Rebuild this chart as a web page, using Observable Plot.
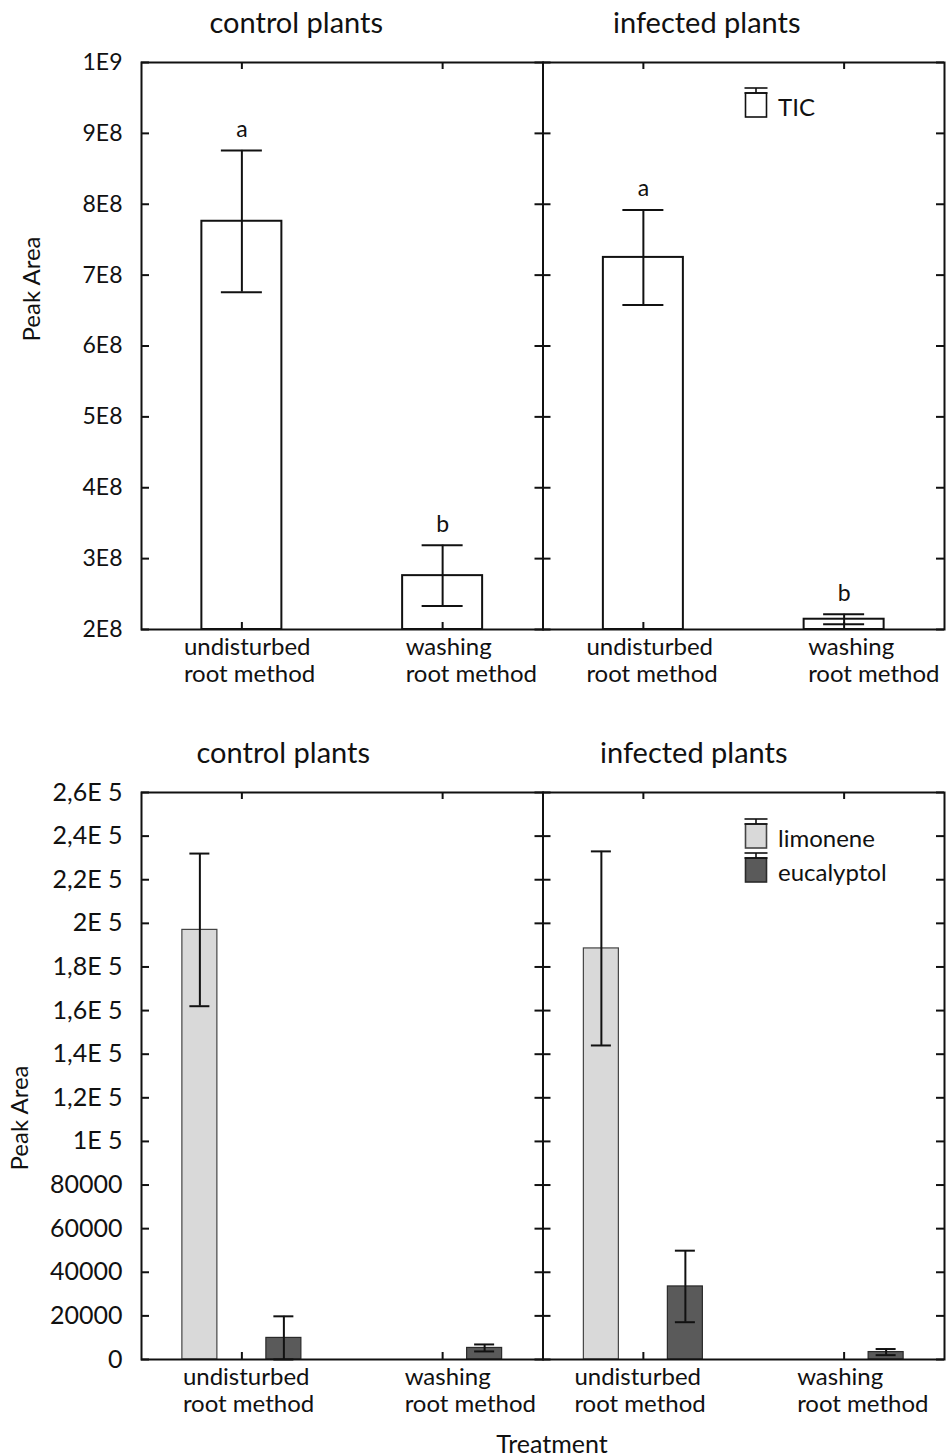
<!DOCTYPE html>
<html>
<head>
<meta charset="utf-8">
<script src="https://cdn.jsdelivr.net/npm/d3@7"></script>
<script src="https://cdn.jsdelivr.net/npm/@observablehq/plot@0.6"></script>
<style>
  body { margin: 0; background: #fff; }
  #wrap { position: relative; width: 947px; height: 1456px; font-family: Lato, "Open Sans", sans-serif; color: #111; }
  #wrap svg { display: block; }
  .lg-icon { position: absolute; }
  .lg-text { position: absolute; font-size: 24px; line-height: 28px; white-space: nowrap; }
  .caption { position: absolute; font-size: 25px; line-height: 30px; white-space: nowrap; transform: translate(-50%, -50%); }
</style>
</head>
<body>
<div id="wrap"></div>
<script>
// ---- data ---------------------------------------------------------------
const plants = ["control plants", "infected plants"];
const methods = ["undisturbed", "washing"];
const methodLabels = ["undisturbed\nroot method", "washing\nroot method"];

// order of the values: control/undisturbed, control/washing, infected/undisturbed, infected/washing
const ticMean = [7.76e8, 2.76e8, 7.25e8, 2.145e8];
const ticErr = [1.0e8, 0.43e8, 0.67e8, 0.07e8];
const ticLetters = ["a", "b", "a", "b"];

const topTicks = [2e8, 3e8, 4e8, 5e8, 6e8, 7e8, 8e8, 9e8, 1e9];
const topTickLabels = ["2E8", "3E8", "4E8", "5E8", "6E8", "7E8", "8E8", "9E8", "1E9"];

const compounds = ["limonene", "eucalyptol"];
const compoundFill = ["#d9d9d9", "#5a5a5a"];
const compoundStroke = ["#444", "#2a2a2a"];
const limoneneMean = [197000, null, 188500, null];
const limoneneErr = [35000, null, 44500, null];
const eucalyptolMean = [9900, 5300, 33500, 3400];
const eucalyptolErr = [9900, 1600, 16400, 1400];

const bottomTicks = [0, 20000, 40000, 60000, 80000, 100000, 120000, 140000, 160000, 180000, 200000, 220000, 240000, 260000];
const bottomTickLabels = ["0", "20000", "40000", "60000", "80000", "1E 5", "1,2E 5", "1,4E 5", "1,6E 5", "1,8E 5", "2E 5", "2,2E 5", "2,4E 5", "2,6E 5"];

const yLabel = "Peak Area";
const xLabel = "Treatment";
const ticName = "TIC";

// ---- rows ---------------------------------------------------------------
const cells = plants.flatMap(plant => methods.map(method => ({plant, method})));
const ticRows = cells.map((c, i) => ({...c, mean: ticMean[i], err: ticErr[i], letter: ticLetters[i]}));
const compRows = (means, errs) => cells
  .map((c, i) => ({...c, mean: means[i], err: errs[i]}))
  .filter(d => d.mean != null);
const limRows = compRows(limoneneMean, limoneneErr);
const eucRows = compRows(eucalyptolMean, eucalyptolErr);

// ---- layout -------------------------------------------------------------
const W = 947, ML = 141, MR = 3, IH = 567;
const FW = (W - ML - MR) / plants.length;   // one facet panel
const BW = FW / methods.length;             // one method band
const INK = "#111";
const FONT = "Lato, 'Open Sans', sans-serif";

// frame with inward ticks on every side of each panel
function panelFrame(yTicks) {
  return [
    Plot.frame({stroke: INK, strokeWidth: 2}),
    Plot.tickY(yTicks, {y: d => d, insetRight: FW - 8, stroke: INK, strokeWidth: 2}),
    Plot.tickY(yTicks, {y: d => d, insetLeft: FW - 8, stroke: INK, strokeWidth: 2}),
    Plot.tickX(methods, {x: d => d, insetBottom: IH - 7, stroke: INK, strokeWidth: 2}),
    Plot.tickX(methods, {x: d => d, insetTop: IH - 7, stroke: INK, strokeWidth: 2})
  ];
}

// labelDx: horizontal shift of each two-line category label, per cell
function panelText(yTicks, yTickLabels, tickFont, tickSpacing, titleDx, labelDx, yLabelDx, yLabelDy) {
  return [
    // panel titles
    ...plants.map((p, i) => Plot.text([p], {
      fx: d => d, text: d => d, frameAnchor: "top", dy: -50, dx: titleDx[i],
      fontSize: 29, fill: INK
    })),
    // y tick labels, left panel only
    Plot.text(yTicks, {
      fx: () => plants[0], y: d => d, text: (d, i) => yTickLabels[i],
      frameAnchor: "left", textAnchor: "end", dx: -19, fontSize: tickFont, fill: INK,
      letterSpacing: tickSpacing
    }),
    // category labels under each panel
    ...cells.map((c, i) => Plot.text([c], {
      fx: "plant", x: "method", text: d => methodLabels[methods.indexOf(d.method)],
      frameAnchor: "bottom", lineAnchor: "top",
      textAnchor: "start", dx: labelDx[i], dy: 7, fontSize: 24, lineHeight: 1.1, fill: INK
    })),
    // y axis title
    Plot.text([yLabel], {
      fx: () => plants[0], text: d => d, frameAnchor: "left", textAnchor: "middle", rotate: -90,
      dx: yLabelDx, dy: yLabelDy, fontSize: 24, fill: INK
    })
  ];
}

const common = {
  width: W, marginLeft: ML, marginRight: MR,
  style: {fontFamily: FONT, background: "#fff", color: INK, overflow: "visible"},
  fx: {domain: plants, padding: 0, axis: null, round: false},
  x: {domain: methods, padding: 0, axis: null, round: false}
};

// ---- TIC panel ----------------------------------------------------------
const ticChart = Plot.plot({
  ...common,
  height: 700, marginTop: 62, marginBottom: 71,
  y: {domain: [topTicks[0], topTicks[topTicks.length - 1]], axis: null},
  marks: [
    Plot.barY(ticRows, {
      fx: "plant", x: "method", y1: () => topTicks[0], y2: "mean",
      fill: "white", stroke: INK, strokeWidth: 2, insetLeft: (BW - 80) / 2, insetRight: (BW - 80) / 2
    }),
    Plot.ruleX(ticRows, {fx: "plant", x: "method", y1: d => d.mean - d.err, y2: d => d.mean + d.err, stroke: INK, strokeWidth: 2}),
    Plot.tickY(ticRows, {fx: "plant", x: "method", y: d => d.mean + d.err, insetLeft: (BW - 41) / 2, insetRight: (BW - 41) / 2, stroke: INK, strokeWidth: 2}),
    Plot.tickY(ticRows, {fx: "plant", x: "method", y: d => d.mean - d.err, insetLeft: (BW - 41) / 2, insetRight: (BW - 41) / 2, stroke: INK, strokeWidth: 2}),
    Plot.text(ticRows, {fx: "plant", x: "method", y: d => d.mean + d.err, text: "letter", dy: -21, fontSize: 23, fill: INK}),
    ...panelFrame(topTicks),
    ...panelText(topTicks, topTickLabels, 23, 0, [-46, -37], [-58, -37, -57, -36], -109, -57)
  ]
});

// ---- limonene / eucalyptol panel -----------------------------------------
const OFF = 42, BARW = 35, CAP = 20;
const offsets = [-OFF, OFF];
const compMarks = [limRows, eucRows].flatMap((rows, k) => {
  const c = BW / 2 + offsets[k];
  return [
    Plot.barY(rows, {
      fx: "plant", x: "method", y: "mean",
      fill: compoundFill[k], stroke: compoundStroke[k], strokeWidth: 1.2,
      insetLeft: c - BARW / 2, insetRight: BW - c - BARW / 2
    }),
    Plot.ruleX(rows, {fx: "plant", x: "method", y1: d => Math.max(0, d.mean - d.err), y2: d => d.mean + d.err, dx: offsets[k], stroke: INK, strokeWidth: 2}),
    Plot.tickY(rows, {fx: "plant", x: "method", y: d => d.mean + d.err, insetLeft: c - CAP / 2, insetRight: BW - c - CAP / 2, stroke: INK, strokeWidth: 2}),
    Plot.tickY(rows, {fx: "plant", x: "method", y: d => Math.max(0, d.mean - d.err), insetLeft: c - CAP / 2, insetRight: BW - c - CAP / 2, stroke: INK, strokeWidth: 2})
  ];
});

const compChart = Plot.plot({
  ...common,
  height: 756, marginTop: 92, marginBottom: 97,
  y: {domain: [bottomTicks[0], bottomTicks[bottomTicks.length - 1]], axis: null},
  marks: [
    ...compMarks,
    ...panelFrame(bottomTicks),
    ...panelText(bottomTicks, bottomTickLabels, 25, 1.5, [-59, -50], [-59, -38, -69, -47], -121, 42)
  ]
});

const wrap = document.getElementById("wrap");
wrap.append(ticChart, compChart);

// ---- legends ------------------------------------------------------------
function legendItem(capY, label, fill, stroke) {
  const ns = "http://www.w3.org/2000/svg";
  const svg = document.createElementNS(ns, "svg");
  svg.setAttribute("class", "lg-icon");
  svg.setAttribute("width", 24);
  svg.setAttribute("height", 33);
  svg.style.left = "744px";
  svg.style.top = (capY - 2) + "px";
  svg.innerHTML =
    `<rect x="1.5" y="7" width="21" height="24" fill="${fill}" stroke="${stroke}" stroke-width="1.6"/>` +
    `<line x1="12" x2="12" y1="2" y2="7" stroke="${INK}" stroke-width="1.6"/>` +
    `<line x1="0.5" x2="23.5" y1="2" y2="2" stroke="${INK}" stroke-width="1.6"/>` +
    `<line x1="0.5" x2="23.5" y1="7" y2="7" stroke="${INK}" stroke-width="1.6"/>`;
  const span = document.createElement("div");
  span.className = "lg-text";
  span.textContent = label;
  span.style.left = "778px";
  span.style.top = (capY + 19 - 14) + "px";
  wrap.append(svg, span);
}
legendItem(88, ticName, "white", INK);
legendItem(819, compounds[0], compoundFill[0], compoundStroke[0]);
legendItem(853, compounds[1], compoundFill[1], compoundStroke[1]);

const cap = document.createElement("div");
cap.className = "caption";
cap.textContent = xLabel;
cap.style.left = "552px";
cap.style.top = "1443px";
wrap.append(cap);
</script>
</body>
</html>
